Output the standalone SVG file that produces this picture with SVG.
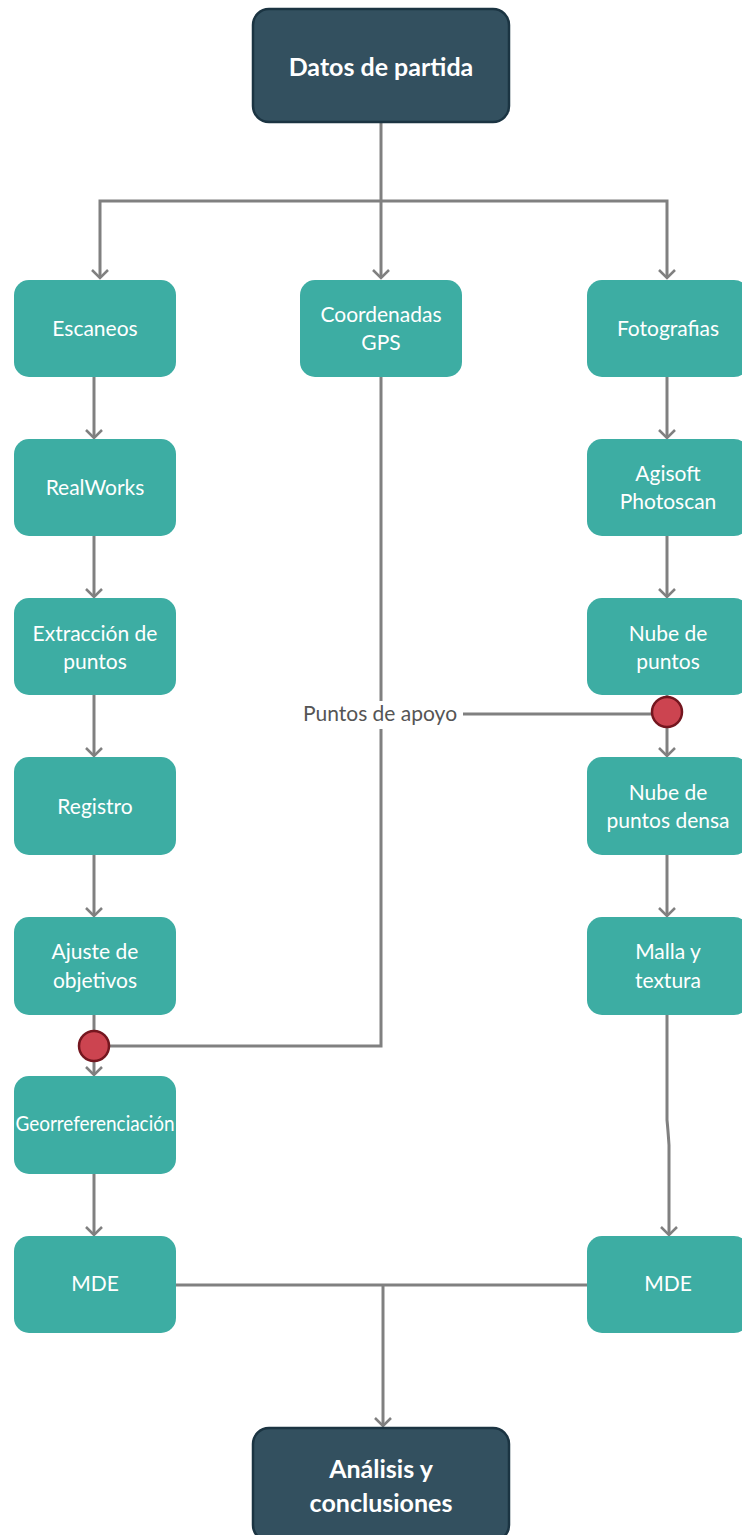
<svg xmlns="http://www.w3.org/2000/svg" width="742" height="1535" viewBox="0 0 742 1535">
<defs>
<marker id="arr" viewBox="0 0 20 20" refX="18" refY="10" markerWidth="20" markerHeight="20" markerUnits="userSpaceOnUse" orient="auto">
<path d="M10,2 L18,10 L10,18" fill="none" stroke="#808080" stroke-width="2.5"/>
</marker>
<style>
.n{fill:#3dada3;}
.d{fill:#33505f;stroke:#1b3442;stroke-width:2.5;}
.t{font-family:Lato,"Liberation Sans",sans-serif;font-size:21px;fill:#ffffff;text-anchor:middle;}
.tb{font-family:Lato,"Liberation Sans",sans-serif;font-size:25px;font-weight:bold;fill:#ffffff;text-anchor:middle;}
.c{fill:none;stroke:#808080;stroke-width:3;}
.ca{fill:none;stroke:#808080;stroke-width:3;marker-end:url(#arr);}
.dot{fill:#cc4450;stroke:#74161f;stroke-width:2.5;}
.lbl{font-family:Lato,"Liberation Sans",sans-serif;font-size:21px;fill:#555555;text-anchor:middle;}
</style>
</defs>
<rect width="742" height="1535" fill="#ffffff"/>
<g id="connectors">
<path class="c" d="M381,122 L381,201"/>
<path class="ca" d="M381,201 L100,201 L100,278"/>
<path class="ca" d="M381,201 L381,278"/>
<path class="ca" d="M381,201 L667,201 L667,278"/>
<path class="ca" d="M94,377 L94,438"/>
<path class="ca" d="M94,536 L94,597"/>
<path class="ca" d="M94,695 L94,756"/>
<path class="ca" d="M94,855 L94,916"/>
<path class="c" d="M94,1015 L94,1031"/>
<path class="ca" d="M94,1061 L94,1075"/>
<path class="ca" d="M94,1174 L94,1235"/>
<path class="ca" d="M667,377 L667,438"/>
<path class="ca" d="M667,536 L667,597"/>
<path class="c" d="M667,695 L667,697"/>
<path class="ca" d="M667,727 L667,756"/>
<path class="ca" d="M667,855 L667,916"/>
<path class="ca" d="M667,1015 L667,1120 Q668,1130 669,1145 L669,1235"/>
<path class="c" d="M381,377 L381,701"/>
<path class="c" d="M381,729 L381,1046 L109,1046"/>
<path class="c" d="M463,714 L652,714"/>
<path class="c" d="M175,1285 L587,1285"/>
<path class="ca" d="M383,1285 L383,1426"/>
<text class="lbl" x="380" y="721">Puntos de apoyo</text>
</g>
<g id="n-datos"><rect class="d" x="253" y="9" width="256" height="113" rx="16"/><text class="tb" x="381" y="76">Datos de partida</text></g>
<g id="n-escaneos"><rect class="n" x="14" y="280" width="162" height="97" rx="15"/><text class="t" x="95" y="336">Escaneos</text></g>
<g id="n-gps"><rect class="n" x="300" y="280" width="162" height="97" rx="15"/><text class="t" x="381" y="322">Coordenadas</text><text class="t" x="381" y="350">GPS</text></g>
<g id="n-fotos"><rect class="n" x="587" y="280" width="162" height="97" rx="15"/><text class="t" x="668" y="336">Fotografias</text></g>
<g id="n-realworks"><rect class="n" x="14" y="439" width="162" height="97" rx="15"/><text class="t" x="95" y="495">RealWorks</text></g>
<g id="n-agisoft"><rect class="n" x="587" y="439" width="162" height="97" rx="15"/><text class="t" x="668" y="481">Agisoft</text><text class="t" x="668" y="509">Photoscan</text></g>
<g id="n-extraccion"><rect class="n" x="14" y="598" width="162" height="97" rx="15"/><text class="t" x="95" y="641">Extracción de</text><text class="t" x="95" y="669">puntos</text></g>
<g id="n-nube"><rect class="n" x="587" y="598" width="162" height="97" rx="15"/><text class="t" x="668" y="641">Nube de</text><text class="t" x="668" y="669">puntos</text></g>
<g id="n-registro"><rect class="n" x="14" y="757" width="162" height="98" rx="15"/><text class="t" x="95" y="814">Registro</text></g>
<g id="n-densa"><rect class="n" x="587" y="757" width="162" height="98" rx="15"/><text class="t" x="668" y="800">Nube de</text><text class="t" x="668" y="828">puntos densa</text></g>
<g id="n-ajuste"><rect class="n" x="14" y="917" width="162" height="98" rx="15"/><text class="t" x="95" y="959">Ajuste de</text><text class="t" x="95" y="988">objetivos</text></g>
<g id="n-malla"><rect class="n" x="587" y="917" width="162" height="98" rx="15"/><text class="t" x="668" y="959">Malla y</text><text class="t" x="668" y="988">textura</text></g>
<g id="n-georef"><rect class="n" x="14" y="1076" width="162" height="98" rx="15"/><text class="t" x="95" y="1131" font-size="17" textLength="159" lengthAdjust="spacingAndGlyphs">Georreferenciación</text></g>
<g id="n-mde1"><rect class="n" x="14" y="1236" width="162" height="97" rx="15"/><text class="t" x="95" y="1291" font-size="17">MDE</text></g>
<g id="n-mde2"><rect class="n" x="587" y="1236" width="162" height="97" rx="15"/><text class="t" x="668" y="1291" font-size="17">MDE</text></g>
<g id="n-analisis"><rect class="d" x="253" y="1428" width="256" height="113" rx="16"/><text class="tb" x="381" y="1478">Análisis y</text><text class="tb" x="381" y="1512">conclusiones</text></g>
<g id="dots"><circle class="dot" cx="667" cy="712" r="15"/><circle class="dot" cx="94" cy="1046" r="15"/></g>
</svg>
